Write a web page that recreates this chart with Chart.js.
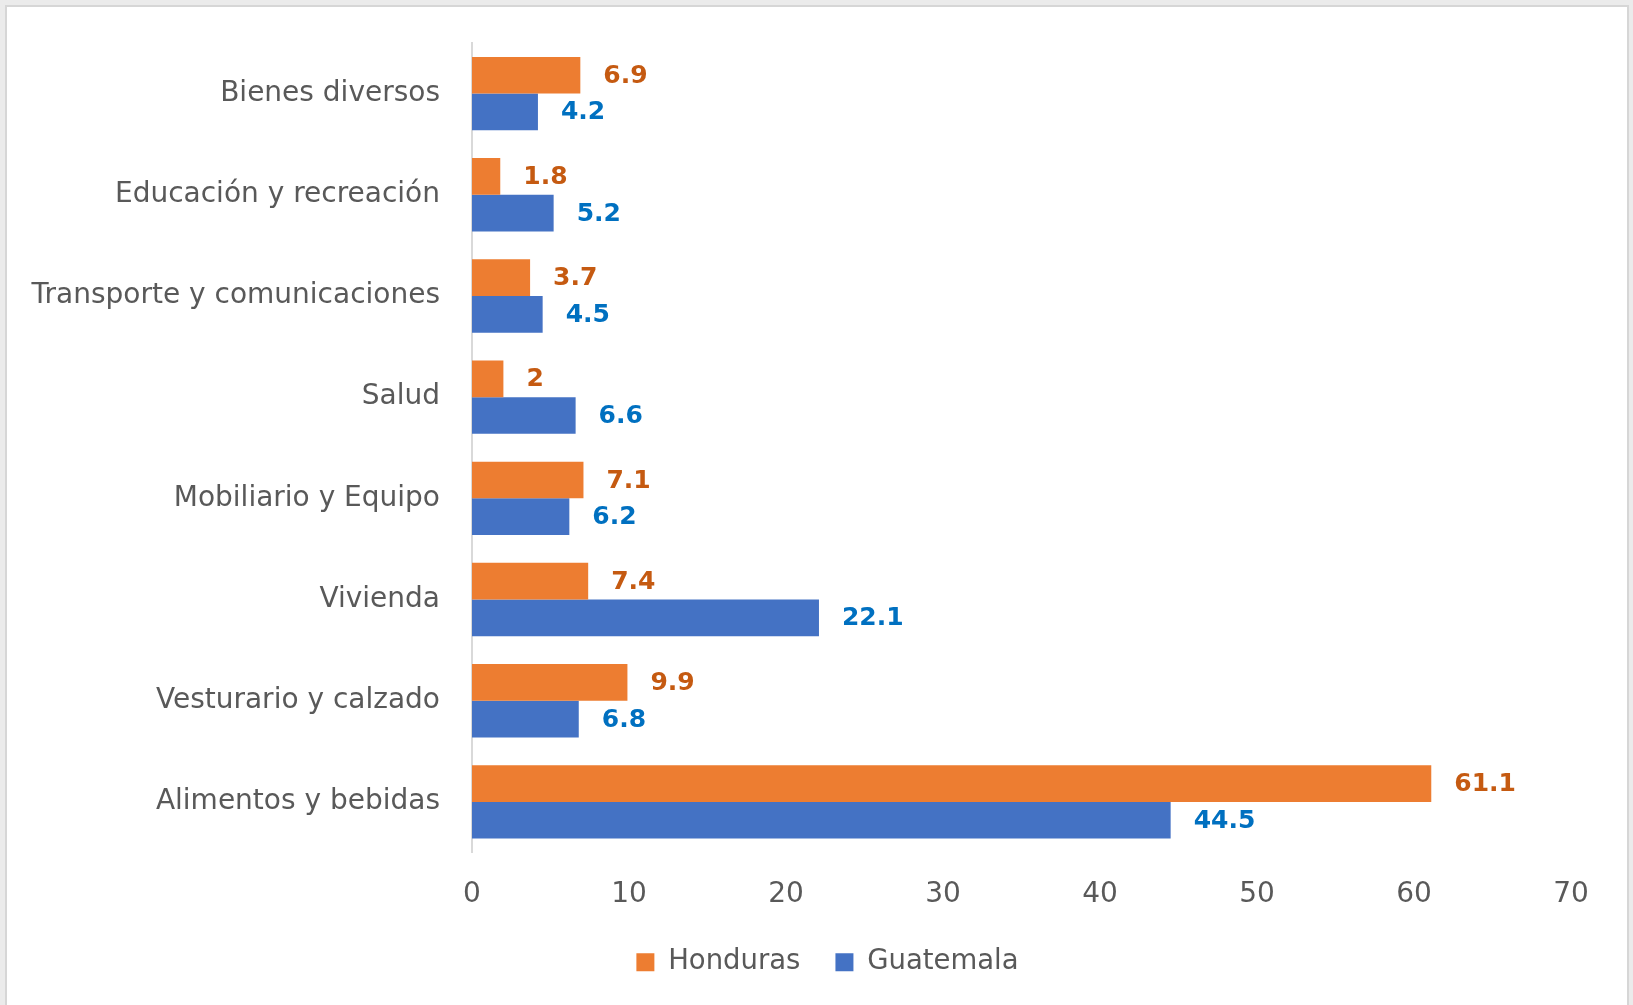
<!DOCTYPE html>
<html>
<head>
<meta charset="utf-8">
<script src="https://cdn.jsdelivr.net/npm/chart.js@4.4.1/dist/chart.umd.min.js"></script>
<style>
  html, body { margin: 0; padding: 0; }
  body { width: 1633px; height: 1005px; background: #ebebeb; position: relative; overflow: hidden; }
  #frame { position: absolute; left: 5px; top: 5px; width: 1620px; height: 1010px; background: #fff; border: 2px solid #d6d6d6; }
  #wrap { position: absolute; left: 0; top: 0; width: 1633px; height: 1005px; }
</style>
</head>
<body>
<div id="frame"></div>
<div id="wrap"><canvas id="chart"></canvas></div>
<script>
const categories = [
    'Bienes diversos',
    'Educación y recreación',
    'Transporte y comunicaciones',
    'Salud',
    'Mobiliario y Equipo',
    'Vivienda',
    'Vesturario y calzado',
    'Alimentos y bebidas'
];
const honduras = [6.9, 1.8, 3.7, 2, 7.1, 7.4, 9.9, 61.1];
const guatemala = [4.2, 5.2, 4.5, 6.6, 6.2, 22.1, 6.8, 44.5];
const xTicks = [0, 10, 20, 30, 40, 50, 60, 70];

const labelColors = ['#C55A11', '#0070C0'];

Chart.defaults.font.family = "'DejaVu Sans', sans-serif";
Chart.defaults.color = '#595959';

// value labels just right of each bar end
const valueLabels = {
    id: 'valueLabels',
    afterDatasetsDraw(chart) {
        const ctx = chart.ctx;
        ctx.save();
        ctx.font = "bold 25px 'DejaVu Sans', sans-serif";
        ctx.textAlign = 'left';
        ctx.textBaseline = 'middle';
        chart.data.datasets.forEach((ds, i) => {
            const meta = chart.getDatasetMeta(i);
            ctx.fillStyle = labelColors[i];
            meta.data.forEach((bar, j) => {
                ctx.fillText(String(ds.data[j]), bar.x + 23, bar.y + 1);
            });
        });
        ctx.restore();
    }
};

// the legend sits a bit right of the canvas centre in the original
const legendShift = {
    id: 'legendShift',
    afterLayout(chart) {
        if (chart.legend) chart.legend.left = 84;
    }
};

new Chart(document.getElementById('chart'), {
    type: 'bar',
    data: {
        labels: categories,
        datasets: [
            { label: 'Honduras', data: honduras, backgroundColor: '#ED7D31', borderWidth: 0 },
            { label: 'Guatemala', data: guatemala, backgroundColor: '#4472C4', borderWidth: 0 }
        ]
    },
    options: {
        indexAxis: 'y',
        responsive: true,
        maintainAspectRatio: false,
        animation: false,
        layout: { padding: { left: 0, right: 62, top: 43, bottom: 19 } },
        datasets: { bar: { categoryPercentage: 0.725, barPercentage: 1 } },
        plugins: {
            legend: {
                position: 'bottom',
                labels: {
                    boxWidth: 18,
                    boxHeight: 18,
                    padding: 35,
                    color: '#595959',
                    font: { size: 27.5 }
                }
            },
            tooltip: { enabled: false }
        },
        scales: {
            x: {
                min: 0,
                max: 70,
                afterBuildTicks: (scale) => { scale.ticks = xTicks.map(v => ({ value: v })); },
                afterFit: (scale) => { scale.height = 61; },
                grid: { display: false },
                border: { display: false },
                ticks: { padding: 17, color: '#595959', font: { size: 28 } }
            },
            y: {
                afterFit: (scale) => {
                    scale.width = 472;
                    scale.paddingTop = 0;
                    scale.paddingBottom = 0;
                },
                grid: { display: false, drawTicks: false },
                border: { display: true, color: '#d9d9d9', width: 2 },
                ticks: { padding: 32, color: '#595959', font: { size: 28 } }
            }
        }
    },
    plugins: [valueLabels, legendShift]
});
</script>
</body>
</html>
